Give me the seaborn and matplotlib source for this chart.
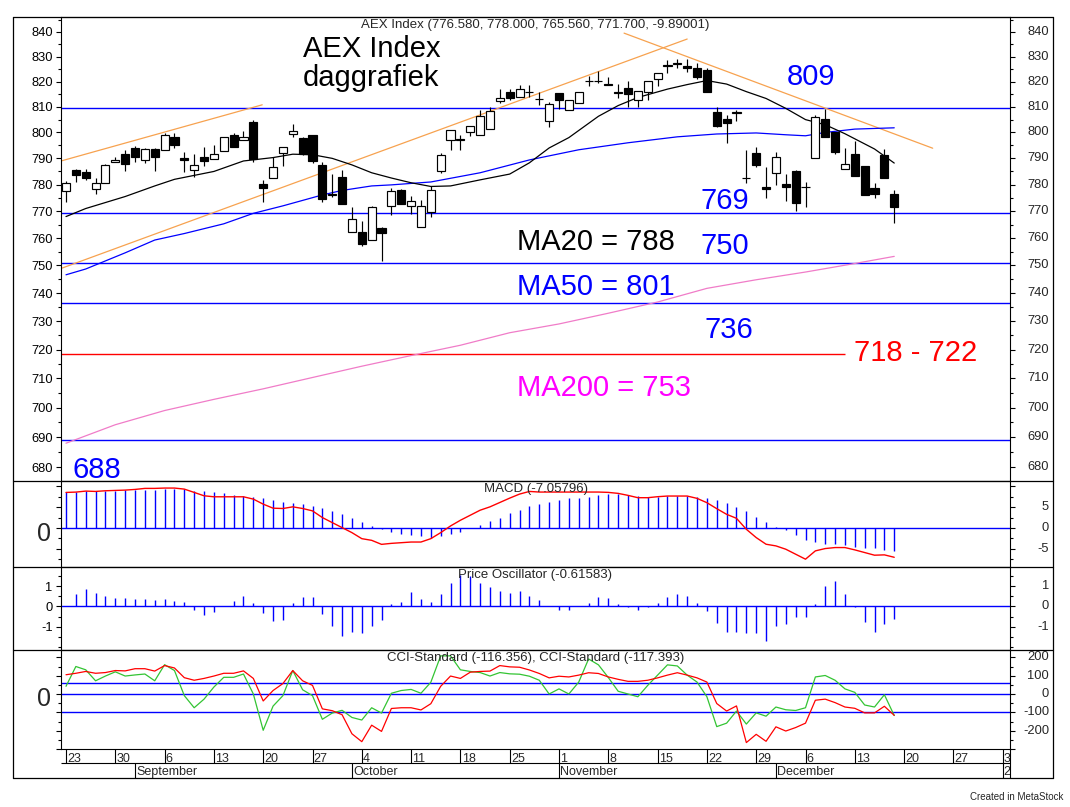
import numpy as np
import pandas as pd
import matplotlib
matplotlib.use("Agg")
import matplotlib.pyplot as plt
import seaborn as sns
from matplotlib.lines import Line2D
from matplotlib.ticker import FixedLocator, NullFormatter, FuncFormatter, MultipleLocator
import matplotlib.transforms as mtransforms

# ---------------- data ----------------
opens = [777.6, 785.6, 784.8, 778.5, 780.7, 788.5, 791.6, 793.9, 789.3, 793.5,
         793.3, 798.1, 790.0, 785.5, 790.4, 789.7, 793.0, 799.0, 797.2, 804.0,
         780.1, 782.4, 792.1, 799.3, 797.9, 799.0, 787.4, 776.5, 782.8, 762.3,
         762.4, 759.3, 763.7, 771.8, 778.0, 771.8, 764.2, 769.8, 785.3, 797.0,
         797.4, 800.1, 798.9, 801.5, 812.4, 815.8, 813.8, 816.0, 813.2, 804.6,
         815.4, 808.8, 811.4, 820.4, 820.3, 819.0, 816.0, 817.4, 812.7, 815.9,
         821.2, 826.1, 827.1, 826.2, 825.6, 824.5, 808.1, 805.2, 807.5, 782.6,
         792.0, 779.2, 784.3, 780.2, 785.0, 779.0, 790.0, 805.2, 800.3, 785.8,
         791.7, 787.1, 778.8, 791.2, 776.58]
highs = [781.4, 786.0, 786.0, 782.4, 787.8, 790.5, 793.3, 794.6, 794.1, 794.1,
         799.6, 799.6, 792.4, 791.6, 794.4, 795.2, 798.1, 799.6, 800.7, 805.0,
         781.7, 790.6, 794.2, 803.3, 798.4, 799.0, 788.6, 784.0, 785.6, 771.7,
         766.2, 771.8, 764.2, 778.6, 778.2, 775.8, 774.2, 779.5, 792.2, 801.0,
         799.0, 802.7, 808.9, 810.0, 817.0, 817.0, 818.7, 818.7, 816.0, 812.0,
         815.6, 812.5, 816.0, 822.4, 824.4, 822.0, 819.0, 820.2, 816.4, 820.4,
         823.3, 828.7, 828.9, 828.9, 827.6, 825.3, 810.1, 806.8, 808.8, 793.2,
         794.2, 786.8, 792.6, 784.0, 785.6, 781.1, 806.8, 809.3, 800.3, 794.0,
         796.7, 787.1, 780.7, 793.5, 778.0]
lows = [773.6, 781.1, 781.8, 776.3, 780.5, 788.5, 785.3, 788.5, 788.1, 785.3,
        793.3, 794.1, 784.9, 782.8, 787.0, 789.7, 793.0, 794.5, 797.2, 788.5,
        773.6, 782.4, 786.9, 798.4, 791.2, 788.1, 773.5, 775.5, 772.6, 762.3,
        757.2, 759.3, 751.7, 768.6, 772.6, 769.0, 764.0, 768.0, 784.5, 793.1,
        793.1, 798.6, 798.9, 801.5, 811.4, 812.7, 813.8, 814.0, 810.8, 802.0,
        809.0, 808.8, 811.4, 818.4, 819.3, 818.5, 813.4, 810.1, 809.8, 812.7,
        818.3, 823.3, 825.6, 824.0, 821.0, 815.9, 802.0, 795.8, 804.5, 780.5,
        786.8, 775.0, 779.8, 773.9, 770.0, 771.5, 790.0, 798.4, 791.6, 785.8,
        783.4, 776.0, 775.0, 782.4, 765.56]
closes = [780.5, 783.8, 782.6, 780.5, 787.4, 789.3, 788.0, 790.7, 793.5, 790.4,
          799.0, 795.3, 789.5, 787.4, 789.1, 791.6, 798.1, 794.5, 798.4, 789.7,
          778.8, 786.6, 794.2, 800.7, 791.6, 789.1, 774.7, 776.0, 772.8, 767.1,
          757.7, 771.5, 761.8, 777.6, 772.6, 773.9, 771.8, 777.9, 791.3, 801.0,
          797.2, 802.7, 806.3, 808.3, 813.4, 813.6, 817.2, 815.8, 813.0, 811.0,
          812.5, 812.5, 816.0, 820.3, 820.4, 818.5, 815.6, 815.1, 816.4, 820.4,
          823.3, 826.8, 827.3, 825.3, 821.9, 815.9, 802.6, 803.6, 808.1, 782.5,
          787.5, 778.2, 790.6, 779.2, 773.0, 779.0, 805.9, 798.4, 792.6, 787.9,
          783.4, 776.0, 776.4, 782.4, 771.7]

ma20_idx = [0, 2, 6, 9, 11, 13, 15, 18, 21, 23, 25, 27, 29, 31, 33, 35, 37, 39, 42, 45,
            47, 49, 51, 54, 56, 58, 61, 63, 65, 67, 69, 71, 73, 75, 77, 79, 82, 84]
ma20_val = [768.0, 771.0, 775.5, 779.5, 782.0, 783.5, 785.0, 789.0, 790.3, 791.6,
            791.4, 790.0, 787.5, 784.5, 782.5, 780.7, 779.3, 779.5, 781.8, 784.0,
            788.3, 794.0, 798.0, 806.3, 810.5, 813.7, 817.0, 818.8, 820.4, 819.0,
            816.0, 813.3, 809.4, 805.0, 803.0, 799.5, 793.6, 788.2]
ma50_idx = [0, 2, 6, 9, 12, 16, 19, 22, 26, 28, 31, 33, 37, 42, 47, 52, 57, 62, 66, 70,
            73, 75, 77, 80, 84]
ma50_val = [746.6, 748.7, 754.6, 759.3, 761.7, 765.3, 769.2, 772.0, 776.1, 777.8,
            779.5, 779.9, 781.0, 784.5, 789.4, 793.3, 796.0, 798.3, 799.4, 799.8,
            799.1, 798.7, 800.0, 801.3, 801.8]
ma200_idx = [0, 5, 10, 15, 20, 25, 30, 35, 40, 45, 50, 55, 60, 65, 70, 75, 80, 84]
ma200_val = [688.0, 694.2, 699.0, 702.8, 706.4, 710.3, 714.2, 717.9, 721.5, 725.9,
             729.0, 732.8, 736.8, 741.7, 744.8, 747.6, 750.7, 753.3]

trend1_idx, trend1_val = [-0.5, 19.9], [789.0, 810.8]
trend2_idx, trend2_val = [-0.5, 63.0], [748.9, 837.1]
trend3_idx, trend3_val = [56.6, 87.9], [839.5, 793.9]

blue_levels = [809.5, 769.2, 751.0, 736.6, 689.0]
red_level = 718.3
red_level_end = 79

macd_line = [8.55, 8.63, 8.87, 8.79, 8.95, 9.03, 9.11, 9.27, 9.52, 9.52,
             9.6, 9.6, 9.35, 8.55, 7.74, 7.5, 7.5, 7.5, 7.5, 6.94,
             5.73, 4.76, 4.68, 5.08, 4.68, 4.11, 2.5, 1.29, 0.08, -1.13,
             -2.58, -2.98, -3.95, -3.71, -3.55, -3.39, -3.39, -2.58, -1.13, 0.48,
             1.85, 3.06, 4.27, 5.08, 6.13, 7.18, 8.15, 8.79, 8.64, 8.64,
             8.64, 8.64, 8.64, 8.64, 8.64, 8.56, 8.32, 7.84, 7.28, 7.28,
             7.52, 7.68, 7.68, 7.68, 7.12, 6.08, 4.64, 3.28, 2.32, -0.32,
             -2.32, -3.92, -4.32, -5.12, -6.32, -7.52, -5.52, -4.96, -4.72, -4.72,
             -5.28, -5.92, -6.56, -6.48, -7.06]
macd_signal = [8.71, 8.71, 8.95, 8.79, 8.95, 8.95, 9.11, 9.11, 9.19, 9.19,
               9.35, 9.35, 9.35, 8.95, 8.79, 8.55, 8.31, 7.98, 7.74, 7.5,
               7.1, 6.69, 6.29, 5.97, 5.73, 5.32, 4.76, 4.11, 3.31, 2.34,
               1.37, 0.4, -0.32, -0.89, -1.53, -1.77, -2.02, -2.34, -2.02, -1.53,
               -0.89, -0.08, 0.65, 1.61, 2.5, 3.55, 4.44, 5.4, 5.84, 6.32,
               6.8, 7.12, 7.28, 7.52, 7.84, 8.08, 8.08, 7.84, 7.68, 7.44,
               7.44, 7.6, 7.68, 7.68, 7.52, 7.28, 6.64, 5.92, 5.12, 4.16,
               2.72, 1.52, 0.32, -0.48, -1.68, -2.96, -3.44, -3.92, -3.92, -4.16,
               -4.48, -4.72, -4.88, -5.36, -5.52]
price_osc = [0.0, 0.61, 0.85, 0.66, 0.52, 0.41, 0.41, 0.36, 0.36, 0.31,
             0.36, 0.28, 0.21, -0.16, -0.41, -0.28, 0.0, 0.28, 0.52, 0.16,
             -0.33, -0.74, -0.66, 0.16, 0.46, 0.46, -0.38, -0.95, -1.44, -1.25,
             -1.31, -0.95, -0.66, 0.11, 0.21, 0.70, 0.36, 0.21, 0.61, 1.15,
             1.56, 1.51, 1.15, 0.95, 0.77, 0.66, 0.77, 0.52, 0.30, 0.0,
             -0.20, -0.17, 0.0, 0.19, 0.46, 0.40, 0.10, -0.05, -0.20, -0.05,
             0.16, 0.45, 0.59, 0.49, 0.16, -0.25, -0.82, -1.25, -1.25, -1.30,
             -1.30, -1.70, -0.97, -0.87, -0.52, -0.52, 0.11, 0.98, 1.25, 0.59,
             -0.05, -0.76, -1.24, -0.87, -0.62]
cci_red = [105, 113, 123, 113, 117, 128, 126, 138, 138, 125,
           155, 142, 89, 75, 85, 98, 113, 113, 126, 85,
           -38, 19, 57, 128, 72, 47, -81, -91, -113, -217,
           -260, -170, -204, -79, -75, -75, -87, -53, 42, 98,
           85, 119, 123, 125, 155, 148, 146, 131, 112, 88,
           97, 93, 103, 116, 112, 93, 80, 69, 69, 75,
           88, 103, 116, 103, 88, 65, -52, -93, -65, -265,
           -220, -258, -179, -202, -183, -159, -34, -28, -47, -71,
           -78, -103, -103, -67, -116.4]
cci_green = [42, 150, 132, 72, 98, 121, 98, 104, 109, 72,
             160, 128, -9, -75, -28, 38, 91, 91, 109, 0,
             -198, -66, -9, 128, 23, -9, -138, -104, -89, -128,
             -142, -75, -104, 4, 19, 25, 4, 64, 208, 208,
             132, 123, 117, 98, 117, 110, 108, 97, 75, 0,
             28, 0, 65, 191, 159, 90, 15, 0, -15, 47,
             103, 159, 153, 103, 65, -15, -178, -159, -93, -164,
             -103, -121, -71, -86, -90, -75, 93, 101, 75, 28,
             9, -60, -71, -4, -117.4]
cci_levels = [60, 0, -100]

price_ticks = list(range(680, 850, 10))
price_minor = list(range(675, 850, 5))
macd_labels = [5, 0, -5]
po_labels = [1, 0, -1]
cci_labels = [200, 100, 0, -100, -200]

first_day, last_day = "2021-08-23", "2022-01-03"
month_names = {9: "September", 10: "October", 11: "November", 12: "December", 1: "2022"}

title_price = "AEX Index (776.580, 778.000, 765.560, 771.700, -9.89001)"
title_macd = "MACD (-7.05796)"
title_po = "Price Oscillator (-0.61583)"
title_cci = "CCI-Standard (-116.356), CCI-Standard (-117.393)"

# ---------------- style ----------------
sns.set_style("ticks")
plt.rcParams['font.family'] = ['Liberation Sans', 'DejaVu Sans']
plt.rcParams['axes.unicode_minus'] = False

W, H = 1070, 807
fig = plt.figure(figsize=(W / 100, H / 100), dpi=100)
fig.patch.set_facecolor('white')


def fx(px):
    return px / W


def fy(py):
    return 1 - py / H


X0, X1 = 61, 1010
XMIN, XMAX = (X0 - 66) / 9.86, (X1 - 66) / 9.86


def add_panel(top, bottom):
    return fig.add_axes([fx(X0), fy(bottom), fx(X1) - fx(X0), fy(top) - fy(bottom)])


ax_p = add_panel(17, 481)
ax_m = add_panel(481, 567)
ax_o = add_panel(567, 650)
ax_c = add_panel(650, 749)
ax_d = add_panel(749, 778)

BLUE = '#0000ff'
RED = '#ff0000'
LBL = 9.3


def style_axis(ax, labelleft):
    ax.set_facecolor('white')
    for s in ax.spines.values():
        s.set_visible(True)
        s.set_color('black')
        s.set_linewidth(0.8)
    ax.set_xlim(XMIN, XMAX)
    ax.tick_params(axis='x', which='both', bottom=False, top=False, labelbottom=False)
    ax.tick_params(axis='y', which='both', direction='out', left=True, right=True,
                   labelleft=labelleft, labelright=False, width=0.8, colors='black',
                   labelsize=LBL, pad=2.4)
    ax.tick_params(axis='y', which='major', length=3.6)
    ax.tick_params(axis='y', which='minor', length=2.2)
    ax.set_xlabel('')
    ax.set_ylabel('')


def right_labels(ax, vals):
    tr = mtransforms.blended_transform_factory(fig.transFigure, ax.transData)
    for v in vals:
        ax.text(fx(1049), v, f"{v:g}", transform=tr, ha='right', va='center',
                fontsize=LBL, clip_on=False)


idx = np.arange(len(closes))
o = np.array(opens)
c = np.array(closes)

# ---------------- price panel ----------------
ax_p.set_yscale('log')
for lv in blue_levels:
    ax_p.axhline(lv, color=BLUE, lw=1.0, zorder=1)
ax_p.hlines(red_level, XMIN, red_level_end, color=RED, lw=1.0, zorder=1)

for ti, tv in [(trend1_idx, trend1_val), (trend2_idx, trend2_val), (trend3_idx, trend3_val)]:
    ax_p.plot(ti, tv, color='#f7a24f', lw=0.9, zorder=1.5)

sns.lineplot(x=ma200_idx, y=ma200_val, ax=ax_p, color='#f07cc8', lw=0.9, legend=False, zorder=2)
sns.lineplot(x=ma50_idx, y=ma50_val, ax=ax_p, color=BLUE, lw=0.9, legend=False, zorder=2)
sns.lineplot(x=ma20_idx, y=ma20_val, ax=ax_p, color='black', lw=0.9, legend=False, zorder=2)

ax_p.vlines(idx, lows, highs, color='black', lw=0.85, zorder=3)
ax_p.bar(idx, np.abs(c - o), bottom=np.minimum(o, c), width=0.82,
         color=np.where(c >= o, 'white', 'black'), edgecolor='black', linewidth=0.85, zorder=4)

ax_p.set_ylim(675.5, 846.1)
style_axis(ax_p, True)
ax_p.yaxis.set_major_locator(FixedLocator(price_ticks))
ax_p.yaxis.set_major_formatter(FuncFormatter(lambda v, p: f"{v:.0f}"))
ax_p.yaxis.set_minor_locator(FixedLocator(price_minor))
ax_p.yaxis.set_minor_formatter(NullFormatter())
right_labels(ax_p, price_ticks)

# ---------------- MACD ----------------
ax_m.axhline(0, color=BLUE, lw=1.0, zorder=1)
ax_m.vlines(idx, 0, macd_signal, color=BLUE, lw=1.0, zorder=2)
sns.lineplot(x=idx, y=macd_line, ax=ax_m, color=RED, lw=1.0, legend=False, zorder=3)
ax_m.set_ylim(-9.4, 11.3)
style_axis(ax_m, False)
ax_m.yaxis.set_major_locator(MultipleLocator(5))
ax_m.yaxis.set_minor_locator(MultipleLocator(2.5))
right_labels(ax_m, macd_labels)

# ---------------- Price oscillator ----------------
ax_o.axhline(0, color=BLUE, lw=1.0, zorder=1)
ax_o.vlines(idx, 0, price_osc, color=BLUE, lw=1.0, zorder=2)
ax_o.set_ylim(-2.15, 1.94)
style_axis(ax_o, True)
ax_o.yaxis.set_major_locator(FixedLocator(po_labels))
ax_o.yaxis.set_major_formatter(FuncFormatter(lambda v, p: f"{v:g}"))
ax_o.yaxis.set_minor_locator(MultipleLocator(0.5))
ax_o.yaxis.set_minor_formatter(NullFormatter())
right_labels(ax_o, po_labels)

# ---------------- CCI ----------------
for lv in cci_levels:
    ax_c.axhline(lv, color=BLUE, lw=1.0, zorder=1)
sns.lineplot(x=idx, y=cci_green, ax=ax_c, color='#33c433', lw=0.9, legend=False, zorder=2)
sns.lineplot(x=idx, y=cci_red, ax=ax_c, color=RED, lw=0.9, legend=False, zorder=3)
ax_c.set_ylim(-300, 240)
style_axis(ax_c, False)
ax_c.yaxis.set_major_locator(MultipleLocator(100))
ax_c.yaxis.set_minor_locator(MultipleLocator(50))
right_labels(ax_c, cci_labels)

for ax in (ax_p, ax_m, ax_o, ax_c):
    ax.set_xlabel('')
    ax.set_ylabel('')
    ax.set_xlim(XMIN, XMAX)

# ---------------- date axis ----------------
days = pd.bdate_range(first_day, last_day)
ax_d.set_xlim(XMIN, XMAX)
ax_d.set_ylim(0, 1)
ax_d.axis('off')
ROW = (778 - 763) / 29
ax_d.hlines(ROW, XMIN, XMAX, color='black', lw=0.8)
ax_d.vlines(XMAX, 0, 1, color='black', lw=0.8, clip_on=False)
for i, d in enumerate(days):
    if d.weekday() == 0:
        ax_d.vlines(i, ROW, 1, color='black', lw=0.8)
        ax_d.text(i + 0.12, (778 - 762.3) / 29, str(d.day), ha='left', va='baseline',
                  fontsize=9, clip_on=True)
    if i > 0 and d.month != days[i - 1].month:
        ax_d.vlines(i, 0, ROW, color='black', lw=0.8)
        ax_d.text(i + 0.1, (778 - 775.3) / 29, month_names[d.month], ha='left',
                  va='baseline', fontsize=9, clip_on=True)

# ---------------- frame & separators ----------------
def fig_line(x0, y0, x1, y1):
    fig.add_artist(Line2D([fx(x0), fx(x1)], [fy(y0), fy(y1)], transform=fig.transFigure,
                          color='black', lw=0.9))


fig_line(13, 17, 1053, 17)
fig_line(13, 778, 1053, 778)
fig_line(13, 17, 13, 778)
fig_line(1053, 17, 1053, 778)
for ysep in (481, 567, 650):
    fig_line(13, ysep, 1053, ysep)

# ---------------- titles ----------------
for t, top in [(title_price, 17), (title_macd, 481), (title_po, 567), (title_cci, 650)]:
    fig.text(fx(535.5), fy(top + 8), t, ha='center', va='center', fontsize=9.5)

# ---------------- annotations ----------------
notes = [("AEX Index", 'black', 303, 57), ("daggrafiek", 'black', 303, 86),
         ("809", BLUE, 787, 85), ("769", BLUE, 700, 209),
         ("MA20 = 788", 'black', 517, 250), ("750", BLUE, 700, 254),
         ("MA50 = 801", BLUE, 517, 295), ("736", BLUE, 704, 338),
         ("718 - 722", RED, 854, 361), ("MA200 = 753", '#ff00ff', 517, 396),
         ("688", BLUE, 73, 478)]
for t, col, x, y in notes:
    fig.text(fx(x), fy(y), t, color=col, ha='left', va='baseline', fontsize=21)

fig.text(fx(37), fy(541), "0", ha='left', va='baseline', fontsize=18)
fig.text(fx(37), fy(706.5), "0", ha='left', va='baseline', fontsize=18)
fig.text(fx(1063), fy(797), "Created in MetaStock", ha='right', va='center', fontsize=7)

fig.savefig("out.png", dpi=100, facecolor='white')
